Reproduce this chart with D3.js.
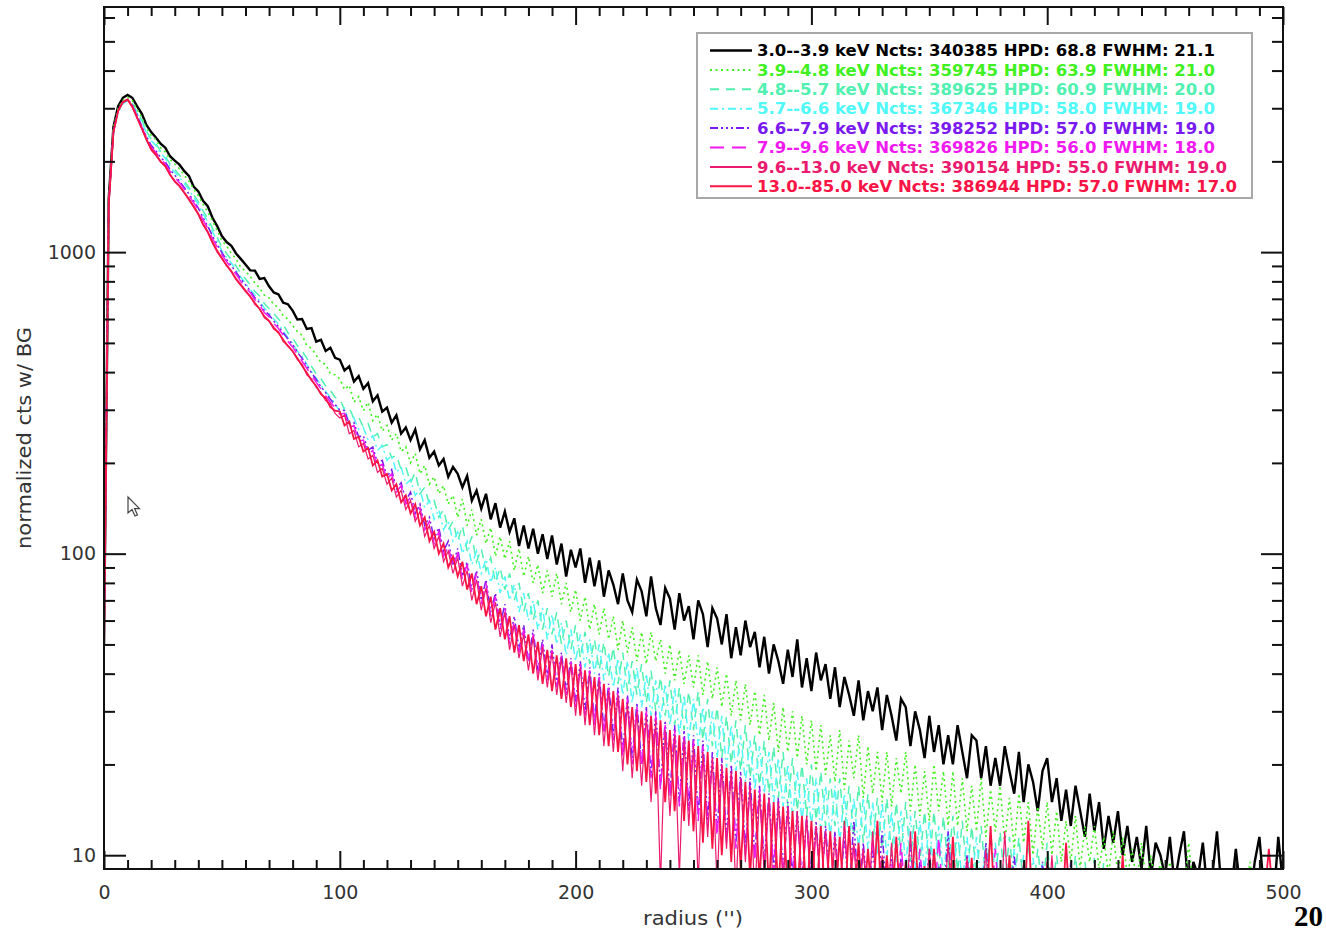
<!DOCTYPE html>
<html><head><meta charset="utf-8">
<script src="https://cdn.jsdelivr.net/npm/d3@7"></script>
<style>
html,body{margin:0;padding:0;background:#fff;}
svg{display:block;}
</style></head><body>
<svg id="chart" width="1326" height="932"></svg>
<script>
// ---------- data (radius bins every 2 arcsec, starting at 0) ----------
const binStep = 2;
const xMajorTicks = [0, 100, 200, 300, 400, 500];
const yMajorTicks = [10, 100, 1000];
const yMinorTicks = [20,30,40,50,60,70,80,90,200,300,400,500,600,700,800,900,2000,3000,4000,5000,6000];

const seriesLabels = [
  "3.0--3.9 keV Ncts: 340385 HPD: 68.8 FWHM: 21.1",
  "3.9--4.8 keV Ncts: 359745 HPD: 63.9 FWHM: 21.0",
  "4.8--5.7 keV Ncts: 389625 HPD: 60.9 FWHM: 20.0",
  "5.7--6.6 keV Ncts: 367346 HPD: 58.0 FWHM: 19.0",
  "6.6--7.9 keV Ncts: 398252 HPD: 57.0 FWHM: 19.0",
  "7.9--9.6 keV Ncts: 369826 HPD: 56.0 FWHM: 18.0",
  "9.6--13.0 keV Ncts: 390154 HPD: 55.0 FWHM: 19.0",
  "13.0--85.0 keV Ncts: 386944 HPD: 57.0 FWHM: 17.0"
];
const seriesColors = ["#000000","#40f020","#50f0b0","#50f8f8","#7a1af0","#f01af0","#ec1a6e","#fa1446"];

const band_3_0 = [
 50,1500,2600,3050,3250,3320,3250,3050,2880,2640,
 2500,2400,2290,2220,2080,2010,1950,1860,1790,1650,
 1590,1480,1420,1300,1220,1130,1080,1050,990,950,
 910,870,868,815,820,770,735,724,680,672,
 640,598,600,556,560,505,512,470,482,446,
 440,405,418,372,388,352,368,320,335,296,
 305,272,288,250,262,238,258,222,238,208,
 218,196,206,180,194,184,166,181,150,162,
 141,158,130,147,122,138,118,131,106,124,
 104,121,100,116,96,115,92,108,84,103,
 90,104,80,97,78,95,72,88,79,68,
 86,70,64,82,75,62,84,66,58,77,
 71,56,74,60,67,52,70,63,49,66,
 61,50,63,45,57,46,60,49,55,42,
 53,40,50,44,37,48,39,52,36,45,
 35,47,38,43,33,42,31,39,34,29,
 38,28,35,30,36,26,34,29,24,33,
 31,23,30,26,21,29,22,27,20,25,
 20,27,22,18,25,24,18,23,17,21,
 17,23,19,16,22,15,20,17.5,14,19,
 21,15,18,13,16.5,12.5,17,14,11.5,16,
 12,15,10.5,13.5,11,14,10,12.5,9.5,11.5,
 9,12.5,8.5,11,10,8.5,11.5,8,10,12,
 7.5,9.5,8.5,11,7.5,8.5,12,7.5,9,7.5,
 10.5,7.5,8,7,9.5,11.5,7.5,8,7,11.5,
 8];

const band_3_9 = [
 55,1480,2580,3000,3190,3260,3180,2980,2800,2580,
 2440,2360,2220,2150,2030,1960,1890,1800,1720,1620,
 1540,1440,1360,1270,1180,1090,1050,990,950,890,
 865,830,790,760,720,705,670,655,615,600,
 570,545,530,490,480,455,430,425,395,392,
 380,350,362,318,332,298,318,276,290,255,
 266,238,250,218,226,200,215,184,196,170,
 180,158,168,146,156,132,152,124,140,115,
 130,108,122,98,114,96,110,88,104,84,
 98,80,92,74,88,72,86,68,80,64,
 76,60,72,56,68,54,66,52,62,48,
 60,47,57,44,55,43,55,44,52,40,
 50,38,48,37,46,36,46,34,44,33,
 42,31,40,29,38,28,37,27,35,25,
 34,24,32,22,31,22,30,21,29,20,
 28,19,27,18.5,25,17.5,26,16.5,24,18,
 25,15.5,23,16,22,15,22,14.5,21,16,
 22,14,20,13.5,19,13,20,14,19,12.5,
 19,12.5,18,12,17,12,18,11.5,16.5,12,
 17,11,15.5,10.5,16,11,15,10,14.5,10.5,
 15,10,14,9.5,13,9.5,13.5,9,12.5,9.5,
 12.5,9,11.5,8.5,12,8.5,11.5,8.5,10.5,8,
 11,8,10,7.8,9.5,7.8,9.5,7.5,8.5,7.5,
 11,7.5,8.5,7.5,9,7.5,8,7.2,8.5,7.5,
 7.2,8,7,9.5,7.2,7.5,8,7,8.2,7.2,
 7.5];

const band_4_8 = [
 48,1470,2540,2940,3130,3200,3110,2920,2740,2520,
 2370,2290,2160,2080,1960,1880,1800,1720,1640,1550,
 1470,1370,1290,1200,1120,1040,990,945,900,850,
 815,780,740,715,675,650,625,600,575,540,
 520,490,470,445,418,395,380,360,348,330,
 326,300,305,280,284,262,270,244,250,226,
 230,208,212,190,194,172,186,158,166,146,
 150,132,140,120,128,110,124,102,114,94,
 104,88,97,80,90,76,86,70,80,64,
 74,60,70,56,66,54,64,50,60,48,
 58,45,55,43,52,41,51,39,49,37,
 47,35,44,34,43,32,41,30,39,29,
 38,27,36,26,35,26,35,24,33,23,
 31,21,29,20,28,19,27,18,25,17,
 24,16,23,15.5,22,14.5,21,14,20,13.5,
 20,13,19,12.5,18,12.5,18,12,17,11.5,
 17,11,16,11,15.5,10.5,15.5,10,15,10,
 15,9.5,14,9.5,14,9.2,14,9,13.5,9,
 13.5,8.8,13,8.5,12.5,8.5,12.5,8.2,12,8.2,
 12,8,11.5,7.8,11.5,7.8,11,7.5,10.5,7.5,
 11,7.5,10,7.2,10.5,7.2,10,7,9.5,7,
 9.8,7,9.5,6.8,9,6.8,9,6.8,8.5,6.8,
 8.8,6.6,8.5,6.6,8,6.6,8.2,6.5,8,6.5,
 8,6.5,7.8,6.4,7.8,6.4,7.6,6.4,7.5,6.3,
 7.5,6.3,7.4,6.3,7.3,6.2,7.2,6.2,7.2,6.2,
 7.2];

const band_5_7 = [
 44,1440,2500,2900,3100,3180,3090,2890,2710,2490,
 2340,2260,2130,2050,1920,1840,1770,1690,1610,1520,
 1440,1340,1260,1170,1090,1010,960,920,870,825,
 790,752,720,690,652,628,600,578,548,520,
 498,470,452,425,402,382,362,345,330,315,
 296,304,270,282,258,262,238,246,220,228,
 204,212,186,194,170,176,156,164,142,150,
 130,140,120,128,110,118,100,110,92,102,
 86,96,80,90,74,84,70,79,64,74,
 60,70,56,66,52,63,50,59,46,56,
 44,54,42,52,40,50,38,47,36,45,
 34,44,32,42,31,40,29,38,28,37,
 27,36,25,34,24,33,23,31,22,30,
 21,29,19.5,27,19,25,17.5,24,16.5,23,
 16,22,15,21,14.5,20,13.5,19,13,18,
 12.5,18,12,17,11.5,17,11,16,11,15.5,
 10.5,15.5,10.5,15,10,15,9.8,14,9.5,14,
 9.2,13.5,9,13,8.8,13,8.6,12.5,8.5,12.2,
 8.2,12,8,11.5,8,11.5,7.8,11,7.6,11,
 7.5,10.5,7.4,10.5,7.3,10,7.2,9.8,7.1,9.5,
 7,9.2,6.9,9,6.8,8.8,6.7,8.5,6.6,8.4,
 6.6,8.2,6.5,8,6.5,7.9,6.4,7.8,6.4,7.7,
 6.3,7.6,6.3,7.5,6.2,7.4,6.2,7.4,6.1,7.3,
 6.1,7.2,6,7.2,6,7.1,6,7,5.9,7,
 5.9,6.9,5.9,6.9,5.8,6.8,5.8,6.8,5.8,6.7,
 6.7];

const band_6_6 = [
 50,1450,2520,2960,3150,3210,3080,2850,2620,2420,
 2260,2170,2060,1990,1880,1800,1720,1640,1560,1480,
 1400,1300,1220,1130,1060,995,945,900,860,815,
 780,745,705,680,640,620,590,566,540,515,
 495,465,445,420,398,378,358,342,325,312,
 300,298,268,272,244,246,220,226,200,204,
 180,190,164,172,150,160,136,146,124,132,
 112,122,102,110,92,104,84,94,76,88,
 70,82,64,74,58,68,52,62,48,58,
 44,56,41,52,39,50,37,47,35,45,
 32,44,30,42,28,40,26,37,25,36,
 22,34,21,32,20,31,18.5,30,17,28,
 16,27,15,26,14.5,25,13.5,24,13,22,
 12,21,11.5,20,11,19,10.5,18,10,17,
 9.5,16,9,15.5,8.8,15,8.5,14,8.2,13.5,
 8,13,7.8,12.5,7.6,12,7.5,11.5,7.4,13,
 7.3,11,7.2,10.5,7.2,12,7.1,10,7,9.8,
 7,11,6.9,9.5,6.9,10.5,6.8,9.2,6.8,12,
 6.7,9,6.7,10,6.7,8.8,6.6,11,6.6,8.7,
 6.6,8.6,6.5,10,6.5,8.5,6.5,8.5,6.4,9.5,
 6.4,8.4,6.4,8.3,6.3,9.5,6.3,8.2,6.3,8.2,
 6.2,8.1,6.2,8.8,6.2,8,6.1,8,6.1,7.9,
 6.1,7.9,6.1,7.8,6,7.8,6,7.7,6,7.7,
 6,7.6,5.9,7.6,5.9,7.5,5.9,7.5,5.9,7.4,
 5.8,7.4,5.8,7.3,5.8,7.3,5.8,7.2,5.8,7.2,
 5.8];

const band_7_9 = [
 52,1460,2510,2950,3140,3200,3060,2830,2600,2400,
 2230,2140,2040,1960,1850,1770,1700,1620,1540,1460,
 1380,1280,1200,1110,1040,980,930,885,845,800,
 765,735,695,668,630,610,580,558,530,505,
 485,458,435,412,390,370,352,334,318,305,
 290,292,262,266,236,238,214,220,194,198,
 176,184,160,168,146,154,132,142,120,128,
 108,118,98,106,90,100,82,92,74,86,
 68,80,62,72,56,66,50,60,47,56,
 43,54,40,50,38,48,36,46,34,44,
 31,43,29,41,27,39,25,36,24,35,
 21,33,20,31,19.5,30,18,29,16.5,27,
 15.5,26,14.5,25,14,24,13,23,12.5,21,
 11.5,20,11,19,10.5,18,10,17,9.5,16.5,
 9,15.5,8.8,15,8.5,14.5,8.2,13.5,8,13,
 7.8,12.5,7.6,12,7.5,11.5,7.4,12.5,7.3,11,
 7.2,10.5,7.1,11.5,7,10,7,9.5,6.9,11,
 6.9,9.2,6.8,10.5,6.8,9,6.7,11.5,6.7,8.8,
 6.7,8.7,6.6,9.8,6.6,8.6,6.6,8.5,6.5,10.5,
 6.5,8.4,6.5,8.4,6.4,9.2,6.4,8.2,6.4,8.2,
 6.3,8.1,6.3,9,6.3,8,6.2,8,6.2,7.9,
 6.2,7.9,6.1,7.8,6.1,8.5,6.1,7.7,6,7.7,
 6,7.6,6,7.6,5.9,7.5,5.9,7.5,5.9,7.4,
 5.9,7.4,5.8,7.3,5.8,7.3,5.8,7.2,5.8,7.2,
 5.7,7.1,5.7,7.1,5.7,7,5.7,7,5.6,7,
 5.6];

const band_9_6 = [
 42,1420,2480,2930,3130,3190,3020,2780,2560,2350,
 2180,2090,1990,1920,1800,1710,1650,1570,1490,1410,
 1330,1230,1160,1070,1000,950,900,860,810,775,
 740,715,670,650,605,590,555,545,505,490,
 468,440,425,392,380,356,342,322,314,292,
 282,288,250,256,226,232,206,212,186,192,
 170,178,154,162,140,150,128,138,114,124,
 104,114,94,102,86,97,78,88,70,82,
 65,77,59,69,53,64,48,58,45,54,
 41,53,38,49,36,47,34,45,32,43,
 29,42,27,40,25,38,23,35,22,34,
 19,32,18,30,17,29,15,28,8,26,
 13.5,25,8.5,24,12.5,23,8,22,11.5,21,
 7.8,20,10.5,19,7.5,18,9.5,17,7.2,16,
 8.8,15.5,7,15,8.2,14.5,6.8,14,7.8,13.5,
 6.8,12.5,7.5,12,6.6,11.5,6.6,13,7,11,
 6.5,10.5,6.5,12,6.4,10,6.4,11,6.3,9.5,
 6.3,12,6.3,9,6.2,10.5,6.2,8.8,6.2,11,
 6.1,8.6,6.1,9.8,6.1,8.5,6,10.5,6,8.4,
 6,12,6,8.2,5.9,9.5,5.9,8.1,5.9,8,
 5.8,10,5.8,7.9,5.8,7.8,5.8,8.8,5.7,7.7,
 5.7,7.7,5.7,7.6,5.7,8.5,5.6,7.5,5.6,7.5,
 5.6,7.4,5.6,7.4,5.5,7.3,5.5,7.3,5.5,7.2,
 5.5,7.2,5.4,7.1,5.4,7.1,5.4,7,5.4,7,
 5.3,6.9,5.3,6.9,5.3,6.8,5.3,6.8,5.3,6.7,
 5.3];

const band_13_0 = [
 46,1440,2500,2950,3150,3210,3040,2800,2580,2370,
 2200,2110,2000,1930,1810,1720,1660,1580,1500,1420,
 1340,1240,1170,1080,1010,955,905,865,815,780,
 745,712,678,648,612,592,562,540,512,488,
 470,445,420,398,376,360,338,328,306,298,
 296,266,274,240,244,218,224,196,204,180,
 184,162,170,148,156,136,146,124,132,110,
 118,100,108,90,98,84,94,76,86,68,
 78,62,72,56,66,52,62,47,58,44,
 54,40,51,37,48,35,46,33,45,31,
 43,29,41,27,39,25,37,23,35,22,
 33,20,31,19,30,17.5,29,16,28,15,
 26,14,25,13,24,12,23,11,22,10.5,
 21,10,19.5,9.5,19,9,17.5,8.5,16.5,8.2,
 16,7.8,15,7.6,14.5,7.4,14,7.2,13.5,7,
 13,6.9,12.5,6.8,12,6.7,11.5,6.6,12.5,6.6,
 11,6.5,10.5,6.5,13,6.4,10,6.4,11.5,6.3,
 9.5,6.3,12,6.2,9.2,6.2,10.5,6.2,9,6.1,
 11.5,6.1,8.8,6.1,9.8,6,8.6,6,12.5,6,
 8.5,6,10,5.9,8.4,5.9,13,5.9,8.3,5.8,
 9.5,5.8,8.2,5.8,11,5.8,8.1,5.7,8,5.7,
 9,5.7,7.9,5.7,7.8,5.6,10,5.6,7.7,5.6,
 7.6,5.6,7.6,5.5,9,5.5,7.5,5.5,7.4,5.5,
 7.4,5.4,7.3,5.4,7.3,5.4,8.5,5.4,7.2,5.4,
 7.2,5.3,7.1,5.3,7.1,5.3,7,10.5,7,5.3,
 7];

const seriesValues = [band_3_0, band_3_9, band_4_8, band_5_7, band_6_6, band_7_9, band_9_6, band_13_0];

// ---------- styles ----------
const lineWidths = [2.4, 1.6, 1.5, 1.5, 1.5, 1.5, 1.2, 1.8];
const dashes = [null, "2,3.5", "9,7", "8,4,2,4", "8,3,2,3,2,3,2,3", "14,8", null, null];

// ---------- layout ----------
const svg = d3.select("#chart");
const plot = {x0: 104, x1: 1283, y0: 7, y1: 869};
const x = d3.scaleLinear().domain([0, 500]).range([plot.x0, plot.x1]);
const y = d3.scaleLog().domain([9, 6500]).range([plot.y1, plot.y0]);

svg.append("defs").append("clipPath").attr("id", "clip")
  .append("rect").attr("x", plot.x0).attr("y", plot.y0)
  .attr("width", plot.x1 - plot.x0).attr("height", plot.y1 - plot.y0);

const lineGen = d3.line().x((d, i) => x(i * binStep)).y(d => y(d));

const lines = svg.append("g").attr("clip-path", "url(#clip)");
seriesValues.forEach((vals, k) => {
  lines.append("path").datum(vals)
    .attr("d", lineGen)
    .attr("fill", "none")
    .attr("stroke", seriesColors[k])
    .attr("stroke-width", lineWidths[k])
    .attr("stroke-linejoin", "miter")
    .attr("stroke-dasharray", dashes[k]);
});

// ---------- axes ----------
const xMinor = d3.range(0, 501, 10).filter(v => !xMajorTicks.includes(v));
const fontFam = "'DejaVu Sans', Verdana, sans-serif";

function styleAxis(g) {
  g.select(".domain").remove();
  g.selectAll(".tick line").attr("stroke", "#111").attr("stroke-width", 2);
  g.selectAll("text").attr("font-family", fontFam).attr("font-size", 19).attr("fill", "#333");
}

// bottom
svg.append("g").attr("transform", `translate(0,${plot.y1})`)
  .call(d3.axisBottom(x).tickValues(xMinor).tickSize(-9).tickFormat("")).call(styleAxis);
svg.append("g").attr("transform", `translate(0,${plot.y1})`)
  .call(d3.axisBottom(x).tickValues(xMajorTicks).tickSize(-18).tickPadding(17).tickFormat(d3.format("d"))).call(styleAxis);
// top
svg.append("g").attr("transform", `translate(0,${plot.y0})`)
  .call(d3.axisTop(x).tickValues(xMinor).tickSize(-9).tickFormat("")).call(styleAxis);
svg.append("g").attr("transform", `translate(0,${plot.y0})`)
  .call(d3.axisTop(x).tickValues(xMajorTicks).tickSize(-18).tickFormat("")).call(styleAxis);
// left
svg.append("g").attr("transform", `translate(${plot.x0},0)`)
  .call(d3.axisLeft(y).tickValues(yMinorTicks).tickSize(-11).tickFormat("")).call(styleAxis);
svg.append("g").attr("transform", `translate(${plot.x0},0)`)
  .call(d3.axisLeft(y).tickValues(yMajorTicks).tickSize(-22).tickPadding(8).tickFormat(d3.format("d"))).call(styleAxis);
// right
svg.append("g").attr("transform", `translate(${plot.x1},0)`)
  .call(d3.axisRight(y).tickValues(yMinorTicks).tickSize(-11).tickFormat("")).call(styleAxis);
svg.append("g").attr("transform", `translate(${plot.x1},0)`)
  .call(d3.axisRight(y).tickValues(yMajorTicks).tickSize(-22).tickFormat("")).call(styleAxis);

// frame
svg.append("rect").attr("x", plot.x0).attr("y", plot.y0)
  .attr("width", plot.x1 - plot.x0).attr("height", plot.y1 - plot.y0)
  .attr("fill", "none").attr("stroke", "#111").attr("stroke-width", 2);

// axis titles
svg.append("text").attr("x", 693).attr("y", 925).attr("text-anchor", "middle")
  .attr("font-family", fontFam).attr("font-size", 19).attr("fill", "#333")
  .attr("textLength", 100).attr("lengthAdjust", "spacingAndGlyphs")
  .text("radius ('')");
svg.append("text").attr("transform", "translate(31,438) rotate(-90)").attr("text-anchor", "middle")
  .attr("font-family", fontFam).attr("font-size", 19).attr("fill", "#333")
  .attr("textLength", 222).attr("lengthAdjust", "spacingAndGlyphs")
  .text("normalized cts w/ BG");

// ---------- legend ----------
const leg = svg.append("g");
leg.append("rect").attr("x", 697).attr("y", 33).attr("width", 555).attr("height", 165)
  .attr("fill", "#fff").attr("stroke", "#a8a8a8").attr("stroke-width", 2);
const legTextLen = [458, 458, 458, 458, 458, 458, 470, 480];
seriesLabels.forEach((lab, k) => {
  const yy = 50.5 + k * 19.4;
  leg.append("line").attr("x1", 710).attr("x2", 752).attr("y1", yy).attr("y2", yy)
    .attr("stroke", seriesColors[k]).attr("stroke-width", Math.max(2, lineWidths[k]))
    .attr("stroke-dasharray", dashes[k]);
  leg.append("text").attr("x", 757).attr("y", yy).attr("dy", "0.36em")
    .attr("font-family", fontFam).attr("font-weight", "bold").attr("font-size", 16)
    .attr("fill", seriesColors[k])
    .attr("textLength", legTextLen[k]).attr("lengthAdjust", "spacingAndGlyphs")
    .text(lab);
});

// mouse pointer visible in the screenshot
svg.append("path").attr("transform", "translate(128,497)")
  .attr("d", "M0,0 L0,16 L4,12.5 L7,19 L9.5,18 L6.6,11.6 L11.5,11.6 Z")
  .attr("fill", "#fff").attr("stroke", "#444").attr("stroke-width", 1.2);

// page number
svg.append("text").attr("x", 1323).attr("y", 926).attr("text-anchor", "end")
  .attr("font-family", "'Liberation Serif', 'DejaVu Serif', serif").attr("font-weight", "bold")
  .attr("font-size", 29).attr("fill", "#000").text("20");
</script>
</body></html>
